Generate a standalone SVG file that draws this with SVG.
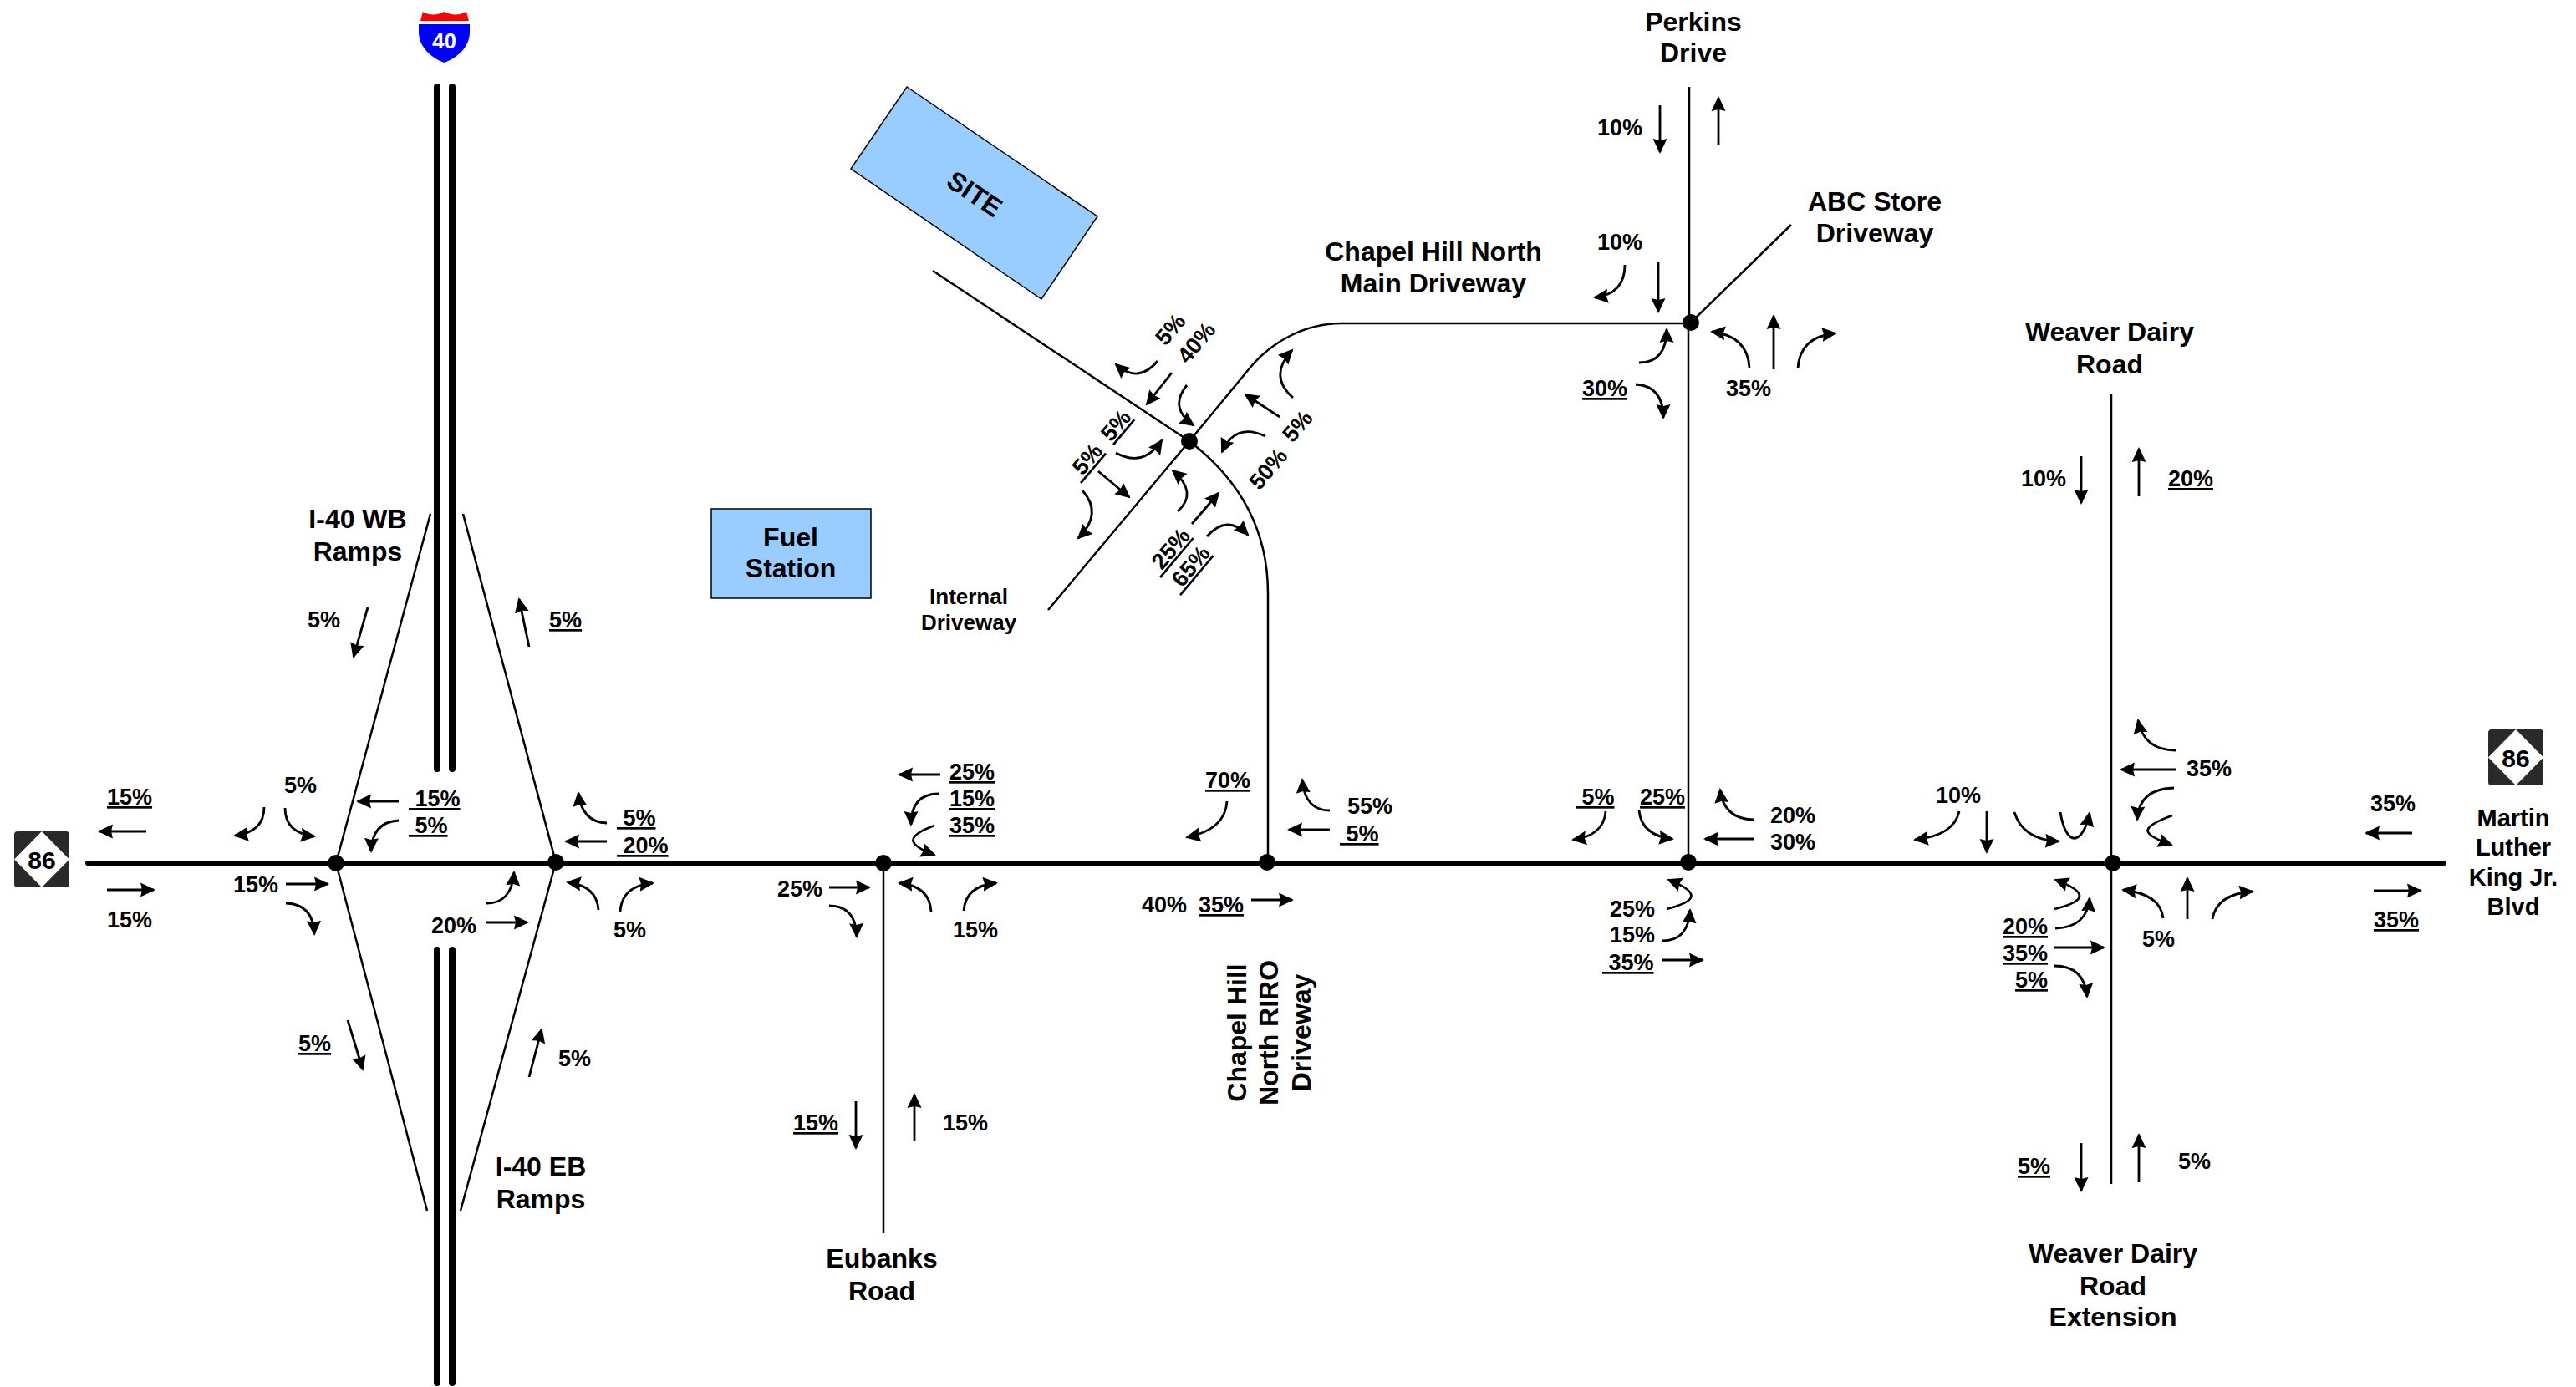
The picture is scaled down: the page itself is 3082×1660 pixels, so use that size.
<svg xmlns="http://www.w3.org/2000/svg" width="3082" height="1660" viewBox="0 0 3082 1660">
<style>
text{font-family:"Liberation Sans",Arial,sans-serif;font-weight:bold;fill:#000}
.t{font-size:27px;white-space:pre}
.u{text-decoration:underline}
.l{font-size:32px;text-anchor:middle}
.m{font-size:29px;text-anchor:middle}
.s{font-size:26px;text-anchor:middle}
.c{text-anchor:middle}
.road{fill:none;stroke:#000;stroke-width:2.5}
.main{fill:none;stroke:#000;stroke-width:6;stroke-linecap:round}
.fwy{fill:none;stroke:#000;stroke-width:8;stroke-linecap:round}
.a{fill:none;stroke:#000;stroke-width:2.8;marker-end:url(#h)}
.dot{fill:#000}
.blue{fill:#99ccff;stroke:#000;stroke-width:1.5}
</style>
<defs>
<marker id="h" markerUnits="userSpaceOnUse" markerWidth="20" markerHeight="18" viewBox="0 0 20 18" refX="16" refY="9" orient="auto"><path d="M0,0.5L18,9L0,17.5L2,9Z" fill="#000"/></marker>
<g id="sign86"><rect x="0" y="0" width="66" height="67" rx="4" fill="#2a2a2a"/><path d="M0,33.5L33,0L66,33.5L33,67Z" fill="#fff"/></g>
</defs>
<g id="connectors">
<path class="main" d="M105,1033H2924"/>
<path class="fwy" d="M523,104V920M541,104V920"/>
<path class="fwy" d="M523,1137V1655M541,1137V1655"/>
<path class="road" d="M515,615L402,1033L511,1449"/>
<path class="road" d="M554,615L665,1032L551,1449"/>
<path class="road" d="M1057,1033V1476"/>
<path class="road" d="M1517,1032V710Q1517,600 1423,528"/>
<path class="road" d="M2021,104V386M2020,386V1032"/>
<path class="road" d="M2023,386L2143,269"/>
<path class="road" d="M2023,387H1605C1560,387 1520,410 1494,442L1423,528"/>
<path class="road" d="M1116,324L1423,528L1254,730"/>
<path class="road" d="M2526,472V1417"/>
</g>
<g id="node-a"><circle class="dot" cx="402" cy="1033" r="10"/></g>
<g id="node-b"><circle class="dot" cx="665" cy="1032" r="10"/></g>
<g id="node-c"><circle class="dot" cx="1057" cy="1033" r="10"/></g>
<g id="node-d"><circle class="dot" cx="1516" cy="1032" r="10"/></g>
<g id="node-e"><circle class="dot" cx="2020" cy="1032" r="10"/></g>
<g id="node-f"><circle class="dot" cx="2528" cy="1033" r="10"/></g>
<g id="node-g"><circle class="dot" cx="2023" cy="386" r="10"/></g>
<g id="node-h"><circle class="dot" cx="1423" cy="528" r="10"/></g>
<g id="i40-shield">
<path d="M503,25L506,14Q517,21 531.5,14Q545,21 558,14L561,25Z" fill="#ff0000"/>
<path d="M501,29H562V38C562,58 545,70 531.5,75C518,70 501,58 501,38Z" fill="#0000ff"/>
<text x="531.5" y="58" font-size="26" style="fill:#fff" class="c">40</text>
</g>
<g id="nc86-west"><use href="#sign86" x="17" y="995"/><text x="50" y="1040" font-size="30" class="c">86</text></g>
<g id="nc86-east"><use href="#sign86" x="2977" y="873"/><text x="3010" y="918" font-size="30" class="c">86</text></g>
<g id="site"><path class="blue" d="M1085,104L1313,259L1246,358L1018,202Z"/><text class="l" transform="translate(1166,232) rotate(34)" y="11">SITE</text></g>
<g id="fuel-station"><rect class="blue" x="851" y="609" width="191" height="107"/><text class="l" x="946" y="654">Fuel</text><text class="l" x="946" y="691">Station</text></g>
<g id="labels">
<text class="l" x="428" y="632">I-40 WB</text><text class="l" x="428" y="671">Ramps</text>
<text class="l" x="647" y="1407">I-40 EB</text><text class="l" x="647" y="1446">Ramps</text>
<text class="l" x="1055" y="1517">Eubanks</text><text class="l" x="1055" y="1556">Road</text>
<text class="l" x="2026" y="37">Perkins</text><text class="l" x="2026" y="74">Drive</text>
<text class="l" x="2243" y="252">ABC Store</text><text class="l" x="2243" y="290">Driveway</text>
<text class="l" x="1715" y="312">Chapel Hill North</text><text class="l" x="1715" y="350">Main Driveway</text>
<text class="l" x="2524" y="408">Weaver Dairy</text><text class="l" x="2524" y="447">Road</text>
<text class="l" x="2528" y="1511">Weaver Dairy</text><text class="l" x="2528" y="1550">Road</text><text class="l" x="2528" y="1587">Extension</text>
<text class="m" x="3007" y="989">Martin</text><text class="m" x="3007" y="1024">Luther</text><text class="m" x="3007" y="1060">King Jr.</text><text class="m" x="3007" y="1095">Blvd</text>
<text class="s" x="1159" y="723">Internal</text><text class="s" x="1159" y="754">Driveway</text>
<text class="l" transform="translate(1491,1236) rotate(-90)">Chapel Hill</text><text class="l" transform="translate(1529,1236) rotate(-90)">North RIRO</text><text class="l" transform="translate(1568,1236) rotate(-90)">Driveway</text>
</g>
<g id="movements">
<path class="a" d="M175,995H119"/><path class="a" d="M128,1065H184"/>
<path class="a" d="M316,966Q316,996 281,1000"/><path class="a" d="M341,967Q341,997 376,1001"/>
<path class="a" d="M477,959H428"/><path class="a" d="M477,982Q445,984 444,1019"/>
<path class="a" d="M726,985Q696,984 692,949"/><path class="a" d="M726,1007H677"/>
<path class="a" d="M342,1058H392"/><path class="a" d="M342,1081Q375,1082 376,1118"/>
<path class="a" d="M581,1081Q612,1082 615,1044"/><path class="a" d="M581,1104H631"/>
<path class="a" d="M716,1089Q714,1060 679,1056"/><path class="a" d="M742,1091Q744,1060 781,1057"/>
<path class="a" d="M416,1221L434,1280"/><path class="a" d="M633,1289L648,1232"/>
<path class="a" d="M440,727L423,786"/><path class="a" d="M633,774L621,717"/>
<path class="a" d="M1385,432Q1362,460 1335,436"/><path class="a" d="M1402,446L1372,484"/>
<path class="a" d="M1420,461Q1398,488 1428,509"/><path class="a" d="M1547,476Q1517,450 1546,419"/>
<path class="a" d="M1531,499L1490,472"/><path class="a" d="M1514,522Q1478,505 1462,541"/>
<path class="a" d="M1335,542Q1368,560 1390,527"/><path class="a" d="M1314,564L1351,595"/>
<path class="a" d="M1295,587Q1320,615 1290,644"/><path class="a" d="M1409,612Q1434,590 1403,563"/>
<path class="a" d="M1426,627L1458,590"/><path class="a" d="M1444,642Q1468,615 1493,640"/>
<path class="a" d="M1944,317Q1944,352 1908,356"/><path class="a" d="M1984,314V373"/>
<path class="a" d="M1961,434Q1994,434 1994,394"/><path class="a" d="M1957,460Q1990,462 1990,500"/>
<path class="a" d="M2093,440Q2091,402 2048,397"/><path class="a" d="M2122,442V378"/>
<path class="a" d="M2151,441Q2153,403 2196,399"/>
<path class="a" d="M1986,126V182"/><path class="a" d="M2056,173V117"/>
<path class="a" d="M2490,546V602"/><path class="a" d="M2559,594V537"/>
<path class="a" d="M1024,1318V1374"/><path class="a" d="M1094,1366V1310"/>
<path class="a" d="M2490,1368V1425"/><path class="a" d="M2559,1415V1358"/>
<path class="a" d="M1125,927H1076"/><path class="a" d="M1123,950Q1090,950 1090,987"/>
<path class="a" d="M1118,988C1080,1002 1088,1012 1118,1023"/>
<path class="a" d="M992,1062H1040"/><path class="a" d="M992,1084Q1024,1084 1025,1121"/>
<path class="a" d="M1114,1091Q1112,1060 1076,1057"/><path class="a" d="M1153,1090Q1155,1060 1192,1057"/>
<path class="a" d="M1468,959Q1466,993 1420,1002"/><path class="a" d="M1591,970Q1561,970 1558,933"/>
<path class="a" d="M1591,993H1542"/><path class="a" d="M1497,1077H1546"/>
<path class="a" d="M1921,971Q1919,1000 1882,1005"/><path class="a" d="M1961,970Q1964,1000 2001,1004"/>
<path class="a" d="M2098,981Q2062,980 2058,945"/><path class="a" d="M2098,1004H2040"/>
<path class="a" d="M1994,1088C2025,1080 2040,1070 1996,1053"/><path class="a" d="M1989,1126Q2020,1126 2022,1089"/>
<path class="a" d="M1988,1149H2037"/>
<path class="a" d="M2344,971Q2338,1000 2291,1005"/><path class="a" d="M2377,971V1020"/>
<path class="a" d="M2410,972Q2420,1005 2463,1007"/><path class="a" d="M2465,972C2472,1015 2492,1012 2500,973"/>
<path class="a" d="M2458,1088C2490,1080 2505,1070 2459,1053"/><path class="a" d="M2459,1111Q2497,1110 2500,1075"/>
<path class="a" d="M2458,1134H2517"/><path class="a" d="M2458,1156Q2494,1156 2497,1193"/>
<path class="a" d="M2603,898Q2565,898 2558,862"/><path class="a" d="M2603,921H2538"/>
<path class="a" d="M2601,943Q2559,944 2557,981"/><path class="a" d="M2599,976C2560,990 2560,998 2598,1011"/>
<path class="a" d="M2588,1099Q2585,1070 2540,1065"/><path class="a" d="M2617,1100V1051"/>
<path class="a" d="M2647,1100Q2652,1070 2695,1067"/>
<path class="a" d="M2886,997H2831"/><path class="a" d="M2840,1066H2896"/>
</g>
<g id="percentages">
<text class="t u" x="128" y="963">15%</text><text class="t" x="128" y="1110">15%</text>
<text class="t" x="340" y="949">5%</text>
<text class="t u" x="489" y="965"> 15%</text><text class="t u" x="489" y="997"> 5%</text>
<text class="t u" x="738" y="988"> 5%</text><text class="t u" x="738" y="1021"> 20%</text>
<text class="t" x="279" y="1068">15%</text><text class="t" x="516" y="1117">20%</text>
<text class="t" x="734" y="1122">5%</text>
<text class="t u" x="357" y="1258">5%</text><text class="t" x="668" y="1276">5%</text>
<text class="t" x="368" y="751">5%</text><text class="t u" x="657" y="751">5%</text>
<text class="t u" x="949" y="1353">15%</text><text class="t" x="1128" y="1353">15%</text>
<text class="t c" transform="translate(1400,394) rotate(-50)" y="9.5">5%</text>
<text class="t c" transform="translate(1431,410) rotate(-50)" y="9.5">40%</text>
<text class="t c" transform="translate(1552,510) rotate(-50)" y="9.5">5%</text>
<text class="t c" transform="translate(1517,561) rotate(-50)" y="9.5">50%</text>
<text class="t u" transform="translate(1329.5,530) rotate(-50)">5%</text>
<text class="t u" transform="translate(1290.5,576) rotate(-50)"> 5%</text>
<text class="t u" transform="translate(1385.5,689) rotate(-50)"> 25%</text>
<text class="t u" transform="translate(1409.5,710) rotate(-50)"> 65%</text>
<text class="t" x="1911" y="299">10%</text><text class="t u" x="1893" y="474">30%</text><text class="t" x="2065" y="474">35%</text>
<text class="t" x="1911" y="162">10%</text>
<text class="t" x="2418" y="582">10%</text><text class="t u" x="2594" y="582">20%</text>
<text class="t u" x="2414" y="1405">5%</text><text class="t" x="2606" y="1399">5%</text>
<text class="t u" x="1136" y="933">25%</text><text class="t u" x="1136" y="965">15%</text><text class="t u" x="1136" y="997">35%</text>
<text class="t" x="930" y="1073">25%</text><text class="t" x="1140" y="1122">15%</text>
<text class="t u" x="1442" y="943">70%</text><text class="t" x="1612" y="974">55%</text><text class="t u" x="1603" y="1007"> 5%</text>
<text class="t" x="1366" y="1092">40%</text><text class="t u" x="1434" y="1092">35%</text>
<text class="t u" x="1885" y="963"> 5%</text><text class="t u" x="1962" y="963">25%</text>
<text class="t" x="2118" y="985">20%</text><text class="t" x="2118" y="1017">30%</text>
<text class="t" x="1926" y="1097">25%</text><text class="t" x="1926" y="1128">15%</text><text class="t u" x="1917" y="1161"> 35%</text>
<text class="t" x="2316" y="961">10%</text>
<text class="t u" x="2396" y="1118">20%</text><text class="t u" x="2396" y="1150">35%</text><text class="t u" x="2411" y="1182">5%</text>
<text class="t" x="2616" y="929">35%</text><text class="t" x="2563" y="1133">5%</text>
<text class="t" x="2836" y="971">35%</text><text class="t u" x="2840" y="1110">35%</text>
</g>
</svg>
